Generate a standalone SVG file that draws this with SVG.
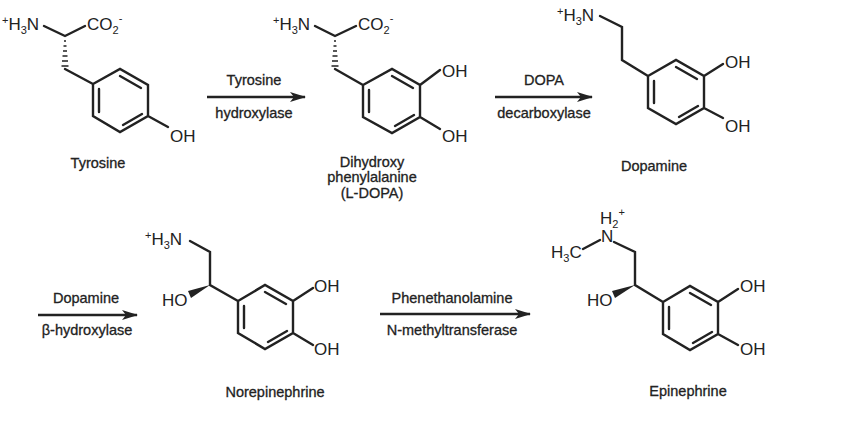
<svg xmlns="http://www.w3.org/2000/svg" width="850" height="427" viewBox="0 0 850 427">
<defs>
<marker id="ah" markerWidth="16" markerHeight="10" refX="15" refY="5" orient="auto" markerUnits="userSpaceOnUse"><path d="M0,0 L16,5 L0,10 L4,5 Z" fill="#222"/></marker>
<style>
.b{stroke:#222;stroke-width:2.4;fill:none;stroke-linecap:round}
.h{stroke:#222;stroke-width:1.7}
.a{font-family:"Liberation Sans",Arial,sans-serif;font-size:17px;fill:#222}
.s{font-size:11px}
.l{font-family:"Liberation Sans",Arial,sans-serif;font-size:14.5px;fill:#222;text-anchor:middle;stroke:#222;stroke-width:0.3}
.c{stroke:#222;stroke-width:2.4;fill:none}
</style>
</defs>
<rect width="850" height="427" fill="#fff"/>

<g id="tyrosine">
<text class="a" x="2" y="30"><tspan class="s" dy="-6">+</tspan><tspan dy="6">H</tspan><tspan class="s" dy="4">3</tspan><tspan dy="-4">N</tspan></text>
<text class="a" x="87" y="30">CO<tspan class="s" dy="4">2</tspan><tspan class="s" dy="-12">-</tspan></text>
<path class="b" d="M44,26 L65,36 L85,26 M65,69 L93,84 M93,84 L120,69 L148,85 L148,116 L120,132 L93,116 Z M148,116 L168,127 M120,76 L141,88 M99,89 L99,112 M123,125 L142,114"/>
<path class="h" d="M64,41h2M63.5,46h3M63,51h4M62.5,56h5M62,61h6M61.5,66h7"/>
<text class="a" x="170" y="142">OH</text>
<text class="l" x="98" y="168">Tyrosine</text>
</g>

<g id="ldopa">
<text class="a" x="273" y="30"><tspan class="s" dy="-6">+</tspan><tspan dy="6">H</tspan><tspan class="s" dy="4">3</tspan><tspan dy="-4">N</tspan></text>
<text class="a" x="358" y="30">CO<tspan class="s" dy="4">2</tspan><tspan class="s" dy="-12">-</tspan></text>
<path class="b" d="M315,26 L335,36 L356,26 M335,69 L363,85 M363,85 L392,69 L420,85 L420,117 L392,133 L363,117 Z M420,85 L440,70 M420,117 L440,129 M392,76 L413,88 M369,90 L369,112 M395,126 L414,115"/>
<path class="h" d="M334,41h2M333.5,46h3M333,51h4M332.5,56h5M332,61h6M331.5,66h7"/>
<text class="a" x="442" y="77">OH</text>
<text class="a" x="442" y="142">OH</text>
<text class="l" x="372" y="167">Dihydroxy</text>
<text class="l" x="372" y="182">phenylalanine</text>
<text class="l" x="372" y="198">(L-DOPA)</text>
</g>

<g id="dopamine">
<text class="a" x="557" y="21"><tspan class="s" dy="-6">+</tspan><tspan dy="6">H</tspan><tspan class="s" dy="4">3</tspan><tspan dy="-4">N</tspan></text>
<path class="b" d="M600,16 L622,27 L622,60 L648,76 M648,76 L676,60 L704,76 L704,108 L676,124 L648,108 Z M704,76 L723,64 M704,108 L723,118 M676,67 L697,79 M654,81 L654,103 M679,117 L698,106"/>
<text class="a" x="725" y="68">OH</text>
<text class="a" x="725" y="132">OH</text>
<text class="l" x="654" y="171">Dopamine</text>
</g>

<g id="norepinephrine">
<text class="a" x="145" y="245"><tspan class="s" dy="-6">+</tspan><tspan dy="6">H</tspan><tspan class="s" dy="4">3</tspan><tspan dy="-4">N</tspan></text>
<path class="b" d="M190,241 L210,252 L210,285 L238,301 M238,301 L265,285 L293,301 L293,333 L265,349 L238,333 Z M293,301 L313,288 M293,333 L313,345 M265,292 L286,304 M244,306 L244,328 M268,342 L287,331"/>
<polygon points="210,285 188,291 191,298" fill="#222"/>
<text class="a" x="162" y="306">HO</text>
<text class="a" x="314" y="292">OH</text>
<text class="a" x="314" y="355">OH</text>
<text class="l" x="275" y="397">Norepinephrine</text>
</g>

<g id="epinephrine">
<text class="a" x="600" y="224">H<tspan class="s" dy="4">2</tspan><tspan class="s" dy="-12">+</tspan></text>
<text class="a" x="601" y="242">N</text>
<text class="a" x="551" y="258">H<tspan class="s" dy="4">3</tspan><tspan dy="-4">C</tspan></text>
<path class="b" d="M583,249 L600,240 M614,242 L635,252 L635,285 L663,302 M663,302 L690,286 L718,302 L718,334 L690,350 L663,334 Z M718,302 L738,289 M718,334 L738,345 M690,293 L711,305 M669,307 L669,329 M693,343 L712,332"/>
<polygon points="635,285 612,291 615,298" fill="#222"/>
<text class="a" x="587" y="306">HO</text>
<text class="a" x="740" y="292">OH</text>
<text class="a" x="740" y="355">OH</text>
<text class="l" x="688" y="396">Epinephrine</text>
</g>

<g id="connectors">
<line class="c" x1="207" y1="97" x2="305" y2="97" marker-end="url(#ah)"/>
<text class="l" x="254" y="85">Tyrosine</text>
<text class="l" x="254" y="118">hydroxylase</text>
<line class="c" x1="495" y1="97" x2="592" y2="97" marker-end="url(#ah)"/>
<text class="l" x="544" y="85">DOPA</text>
<text class="l" x="544" y="118">decarboxylase</text>
<line class="c" x1="38" y1="315" x2="137" y2="315" marker-end="url(#ah)"/>
<text class="l" x="86" y="303">Dopamine</text>
<text class="l" x="87" y="335">β-hydroxylase</text>
<line class="c" x1="380" y1="314" x2="530" y2="314" marker-end="url(#ah)"/>
<text class="l" x="452" y="303">Phenethanolamine</text>
<text class="l" x="452" y="335">N-methyltransferase</text>
</g>
</svg>
